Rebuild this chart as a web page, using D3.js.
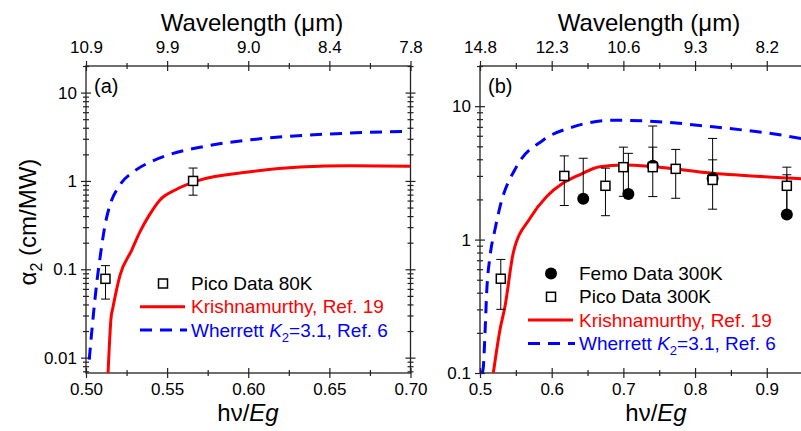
<!DOCTYPE html>
<html lang="en">
<head>
<meta charset="utf-8">
<title>Two photon absorption</title>
<script src="https://d3js.org/d3.v7.min.js"></script>
<style>
  body { margin: 0; background: #fff; }
  svg text { font-family: "Liberation Sans", Arial, sans-serif; }
</style>
</head>
<body>
<div id="chart"></div>
<script>

// ---------------- data ----------------

// panel (a): 80K
var aPicoX  = [0.512, 0.566];
var aPicoY  = [0.078, 1.0];
var aPicoLo = [0.046, 0.69];
var aPicoHi = [0.11, 1.4];

var aKrishX = [0.5136, 0.5155, 0.5165, 0.521, 0.5282, 0.533, 0.539, 0.5456, 0.555, 0.570, 0.600, 0.632, 0.663, 0.700];
var aKrishY = [0.0067, 0.029, 0.0363, 0.086, 0.165, 0.26, 0.41, 0.61, 0.79, 1.02, 1.26, 1.44, 1.49, 1.47];

var aWherX = [0.502, 0.5045, 0.507, 0.509, 0.5115, 0.515, 0.520, 0.530, 0.540, 0.550, 0.575, 0.600, 0.625, 0.650, 0.675, 0.700];
var aWherY = [0.0095, 0.03, 0.08, 0.15, 0.3, 0.55, 0.85, 1.3, 1.65, 1.95, 2.5, 2.9, 3.2, 3.4, 3.55, 3.65];

// panel (b): 300K
var bPicoX  = [0.529, 0.6176, 0.675, 0.700, 0.741, 0.773, 0.8245, 0.928];
var bPicoY  = [0.509, 3.0, 2.53, 3.49, 3.49, 3.39, 2.8, 2.53];
var bPicoLo = [0.30, 1.8, 1.51, 2.11, 2.1, 2.04, 1.69, 1.54];
var bPicoHi = [0.71, 4.24, 3.43, 4.93, 7.1, 4.74, 5.73, 3.49];

var bFemoX  = [0.644, 0.707, 0.741, 0.8245, 0.928];
var bFemoY  = [2.02, 2.2, 3.58, 2.88, 1.54];
var bFemoLo = [2.02, 2.1, 3.58, 2.88, 1.54];
var bFemoHi = [4.07, 4.43, 4.93, 3.96, 3.06];

var bKrishX = [0.5186, 0.528, 0.535, 0.5465, 0.570, 0.593, 0.616, 0.639, 0.667, 0.700, 0.742, 0.825, 0.937, 0.950];
var bKrishY = [0.1, 0.213, 0.318, 0.8, 1.45, 2.1, 2.65, 3.06, 3.52, 3.62, 3.52, 3.14, 2.88, 2.85];

var bWherX = [0.503, 0.5046, 0.507, 0.5093, 0.514, 0.5209, 0.528, 0.551, 0.588, 0.630, 0.686, 0.756, 0.825, 0.918, 0.950];
var bWherY = [0.1, 0.11, 0.2, 0.4, 0.75, 1.19, 1.77, 3.52, 5.56, 7.0, 7.85, 7.6, 7.0, 6.1, 5.7];

// ticks
var aMajorX = [0.50, 0.55, 0.60, 0.65, 0.70];
var aMinorX = [0.525, 0.575, 0.625, 0.675];
var aWaveLabels = ["10.9", "9.9", "9.0", "8.4", "7.8"];
var bMajorX = [0.5, 0.6, 0.7, 0.8, 0.9];
var bMinorX = [0.55, 0.65, 0.75, 0.85, 0.95];
var bWaveLabels = ["14.8", "12.3", "10.6", "9.3", "8.2"];
var aMajorY = [0.01, 0.1, 1, 10];
var bMajorY = [0.1, 1, 10];

// ---------------- drawing ----------------

var W = 801, H = 431;
var svg = d3.select("#chart").append("svg")
    .attr("width", W)
    .attr("height", H);

var top0 = 66, bot0 = 373;

function logMinors(lo, hi) {
  var out = [];
  for (var e = -3; e <= 2; e++) {
    for (var m = 2; m <= 9; m++) {
      var v = m * Math.pow(10, e);
      if (v >= lo * 0.999 && v <= hi * 1.001) out.push(v);
    }
  }
  return out;
}

// draws ticks that cross the axis line (both in and out)
function crossTicks(g, axisFn, scale, values, size, fmt, pad) {
  var outer = axisFn(scale).tickValues(values).tickSizeInner(size).tickSizeOuter(0)
      .tickPadding(pad || 4).tickFormat(fmt || "");
  var inner = axisFn(scale).tickValues(values).tickSizeInner(-size).tickSizeOuter(0)
      .tickFormat("");
  g.append("g").call(outer);
  g.append("g").call(inner);
  g.selectAll(".domain").remove();
  g.selectAll("line").attr("stroke", "#222").attr("stroke-width", 1.2);
  g.selectAll("text").attr("font-size", 17).attr("fill", "#000");
}

function panel(opt) {
  var x = opt.x, y = opt.y;
  var g = svg.append("g");
  var x0 = x.range()[0], x1 = Math.min(x.range()[1], W + 5);

  // bottom axis
  var gb = g.append("g").attr("transform", "translate(0," + bot0 + ")");
  crossTicks(gb, d3.axisBottom, x, opt.majorX, 5, opt.fmtX, 5);
  crossTicks(gb, d3.axisBottom, x, opt.minorX, 3);
  // top axis (wavelength)
  var gt = g.append("g").attr("transform", "translate(0," + top0 + ")");
  crossTicks(gt, d3.axisTop, x, opt.majorX, 5, function(d, i) { return opt.wave[i]; }, 8);
  crossTicks(gt, d3.axisTop, x, opt.minorX, 3);
  // left axis
  var gl = g.append("g").attr("transform", "translate(" + x0 + ",0)");
  crossTicks(gl, d3.axisLeft, y, opt.majorY, 5, function(d) { return d3.format("~g")(d); }, 4);
  crossTicks(gl, d3.axisLeft, y, logMinors(y.domain()[0], y.domain()[1]), 3);
  // right axis (mirror), only when visible
  if (x.range()[1] < W) {
    var gr = g.append("g").attr("transform", "translate(" + x.range()[1] + ",0)");
    crossTicks(gr, d3.axisRight, y, opt.majorY, 5);
    crossTicks(gr, d3.axisRight, y, logMinors(y.domain()[0], y.domain()[1]), 3);
  }

  // frame
  g.append("rect")
    .attr("x", x0).attr("y", top0)
    .attr("width", x.range()[1] - x0).attr("height", bot0 - top0)
    .attr("fill", "none").attr("stroke", "#222").attr("stroke-width", 1.3);

  // clip
  var cid = "clip" + opt.name;
  svg.append("clipPath").attr("id", cid).append("rect")
    .attr("x", x0).attr("y", top0).attr("width", x1 - x0).attr("height", bot0 - top0);
  var pg = g.append("g").attr("clip-path", "url(#" + cid + ")");

  var line = d3.line()
    .x(function(d) { return x(d[0]); })
    .y(function(d) { return y(d[1]); })
    .curve(d3.curveMonotoneX);

  pg.append("path")
    .datum(d3.zip(opt.wherX, opt.wherY))
    .attr("d", line)
    .attr("fill", "none").attr("stroke", "#0000ff").attr("stroke-width", 3)
    .attr("stroke-dasharray", "12,8");

  pg.append("path")
    .datum(d3.zip(opt.krishX, opt.krishY))
    .attr("d", line)
    .attr("fill", "none").attr("stroke", "#ff0000").attr("stroke-width", 3);

  // error bars
  function errBars(xs, los, his) {
    xs.forEach(function(xv, i) {
      var eg = pg.append("g").attr("stroke", "#000").attr("stroke-width", 1);
      eg.append("line").attr("x1", x(xv)).attr("x2", x(xv)).attr("y1", y(los[i])).attr("y2", y(his[i]));
      eg.append("line").attr("x1", x(xv) - 4.5).attr("x2", x(xv) + 4.5).attr("y1", y(his[i])).attr("y2", y(his[i]));
      if (los[i] !== undefined) {
        eg.append("line").attr("x1", x(xv) - 4.5).attr("x2", x(xv) + 4.5).attr("y1", y(los[i])).attr("y2", y(los[i]));
      }
    });
  }
  if (opt.femoX) errBars(opt.femoX, opt.femoLo, opt.femoHi);
  errBars(opt.picoX, opt.picoLo, opt.picoHi);

  if (opt.femoX) {
    pg.selectAll("circle.femo")
      .data(d3.zip(opt.femoX, opt.femoY))
      .enter().append("circle")
      .attr("cx", function(d) { return x(d[0]); })
      .attr("cy", function(d) { return y(d[1]); })
      .attr("r", 6).attr("fill", "#000");
  }
  pg.selectAll("rect.pico")
    .data(d3.zip(opt.picoX, opt.picoY))
    .enter().append("rect")
    .attr("x", function(d) { return x(d[0]) - 4.5; })
    .attr("y", function(d) { return y(d[1]) - 4.5; })
    .attr("width", 9).attr("height", 9)
    .attr("fill", "#fff").attr("stroke", "#000").attr("stroke-width", 1.5);

  // titles
  g.append("text").attr("x", opt.waveCx).attr("y", 31).attr("text-anchor", "middle")
    .attr("font-size", 24).text("Wavelength (\u03bcm)");
  var xt = g.append("text").attr("x", opt.hvCx).attr("y", 421).attr("text-anchor", "middle")
    .attr("font-size", 24);
  xt.append("tspan").text("h\u03bd/");
  xt.append("tspan").attr("font-style", "italic").text("Eg");

  g.append("text").attr("x", x0 + 8).attr("y", 93).attr("font-size", 20).text(opt.label);

  // legend
  var lg = g.append("g");
  var lx = opt.legX, ly = opt.legY, step = 23.3;
  var row = 0;
  if (opt.femoX) {
    lg.append("circle").attr("cx", lx + 23).attr("cy", ly - 6.5).attr("r", 6).attr("fill", "#000");
    lg.append("text").attr("x", lx + 51).attr("y", ly).attr("font-size", 19).text("Femo Data 300K");
    row++;
  }
  var yy = ly + row * step;
  lg.append("rect").attr("x", lx + 18.5).attr("y", yy - 11).attr("width", 9).attr("height", 9)
    .attr("fill", "#fff").attr("stroke", "#000").attr("stroke-width", 1.5);
  lg.append("text").attr("x", lx + 51).attr("y", yy).attr("font-size", 19).text(opt.picoName);
  yy += step;
  lg.append("line").attr("x1", lx).attr("x2", lx + 45).attr("y1", yy - 6.5).attr("y2", yy - 6.5)
    .attr("stroke", "#ff0000").attr("stroke-width", 3);
  lg.append("text").attr("x", lx + 51).attr("y", yy).attr("font-size", 19).attr("fill", "#ff0000")
    .text("Krishnamurthy, Ref. 19");
  yy += step;
  lg.append("line").attr("x1", lx).attr("x2", lx + 47).attr("y1", yy - 6.5).attr("y2", yy - 6.5)
    .attr("stroke", "#0000ff").attr("stroke-width", 3).attr("stroke-dasharray", "12,8");
  var wt = lg.append("text").attr("x", lx + 51).attr("y", yy).attr("font-size", 19).attr("fill", "#0000ff");
  wt.append("tspan").text("Wherrett ");
  wt.append("tspan").attr("font-style", "italic").text("K");
  wt.append("tspan").attr("font-size", 13).attr("dy", 5).text("2");
  wt.append("tspan").attr("dy", -5).text("=3.1, Ref. 6");
}

var xa = d3.scaleLinear().domain([0.5, 0.7]).range([86, 410.5]);
var ya = d3.scaleLog().domain([0.0067, 20]).range([bot0, top0]);
var xb = d3.scaleLinear().domain([0.5, 0.95]).range([480, 802.6]);
var yb = d3.scaleLog().domain([0.1, 20]).range([bot0, top0]);

panel({
  name: "a", x: xa, y: ya, label: "(a)",
  majorX: aMajorX, minorX: aMinorX, wave: aWaveLabels, majorY: aMajorY,
  fmtX: d3.format(".2f"),
  picoX: aPicoX, picoY: aPicoY, picoLo: aPicoLo, picoHi: aPicoHi,
  krishX: aKrishX, krishY: aKrishY, wherX: aWherX, wherY: aWherY,
  waveCx: 252, hvCx: 248, legX: 140, legY: 290, picoName: "Pico Data 80K"
});

panel({
  name: "b", x: xb, y: yb, label: "(b)",
  majorX: bMajorX, minorX: bMinorX, wave: bWaveLabels, majorY: bMajorY,
  fmtX: d3.format(".1f"),
  picoX: bPicoX, picoY: bPicoY, picoLo: bPicoLo, picoHi: bPicoHi,
  femoX: bFemoX, femoY: bFemoY, femoLo: bFemoLo, femoHi: bFemoHi,
  krishX: bKrishX, krishY: bKrishY, wherX: bWherX, wherY: bWherY,
  waveCx: 649, hvCx: 656, legX: 528, legY: 280, picoName: "Pico Data 300K"
});

// y axis title
var yt = svg.append("text")
  .attr("transform", "translate(36,222) rotate(-90)")
  .attr("text-anchor", "middle").attr("font-size", 24);
yt.append("tspan").text("\u03b1");
yt.append("tspan").attr("font-size", 16).attr("dy", 6).text("2");
yt.append("tspan").attr("dy", -6).text(" (cm/MW)");

</script>
</body>
</html>
